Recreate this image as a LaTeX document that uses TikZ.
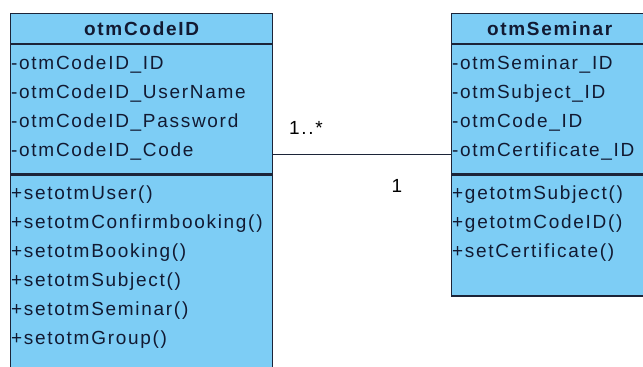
\documentclass[tikz,border=0pt]{standalone}
\usepackage{fontspec}
\setmainfont{Liberation Sans}[LetterSpace=9]
\usetikzlibrary{positioning}
\definecolor{classfill}{RGB}{125,205,245}
\definecolor{classline}{RGB}{28,36,56}
\definecolor{classtext}{RGB}{18,26,50}

\begin{document}
\begin{tikzpicture}[
    x=1pt, y=-1pt,
    headbox/.style={draw=classline, fill=classfill, line width=1.2pt,
                    font=\fontsize{19}{22}\selectfont\bfseries, text=classtext,
                    minimum height=30pt, inner sep=0pt, anchor=north west},
    partbox/.style={draw=classline, fill=classfill, line width=1.2pt,
                    inner sep=0pt, anchor=north},
    rows/.style={align=left, anchor=north west, inner sep=0pt, text=classtext,
                 font=\fontsize{19}{29}\selectfont},
    mult/.style={font=\fontsize{19}{22}\selectfont, text=black, inner sep=0pt}
]
\useasboundingbox (0,0) rectangle (643,367);
\fill[white] (0,0) rectangle (643,367);
\clip (0,0) rectangle (643,367);

% class otmCodeID
\node[headbox, minimum width=262pt] (codeHead) at (10,13) {otmCodeID};
\node[partbox, minimum width=262pt, minimum height=129pt, below=0pt of codeHead] (codeAttr) {};
\node[partbox, minimum width=262pt, minimum height=220pt, below=0pt of codeAttr] (codeOps) {};
\node[rows, below right=11pt and 1pt of codeAttr.north west] (codeAttrTxt)
    {-otmCodeID\_ID\\-otmCodeID\_UserName\\-otmCodeID\_Password\\-otmCodeID\_Code};
\node[rows, below right=11pt and 1pt of codeOps.north west] (codeOpsTxt)
    {+setotmUser()\\+setotmConfirmbooking()\\+setotmBooking()\\+setotmSubject()\\+setotmSeminar()\\+setotmGroup()};

% class otmSeminar
\node[headbox, minimum width=196pt] (semHead) at (451,13) {otmSeminar};
\node[partbox, minimum width=196pt, minimum height=129pt, below=0pt of semHead] (semAttr) {};
\node[partbox, minimum width=196pt, minimum height=121pt, below=0pt of semAttr] (semOps) {};
\node[rows, below right=11pt and 1pt of semAttr.north west] (semAttrTxt)
    {-otmSeminar\_ID\\-otmSubject\_ID\\-otmCode\_ID\\-otmCertificate\_ID};
\node[rows, below right=11pt and 1pt of semOps.north west] (semOpsTxt)
    {+getotmSubject()\\+getotmCodeID()\\+setCertificate()};

% association
\coordinate (assoc) at ([yshift=20pt]codeAttr.south east);
\draw[classline, line width=1.2pt] (assoc) -- (assoc -| semAttr.west);
\node[mult] (multMany) at (306,128) {1..*};
\node[mult] (multOne) at (397,186) {1};
\end{tikzpicture}
\end{document}
